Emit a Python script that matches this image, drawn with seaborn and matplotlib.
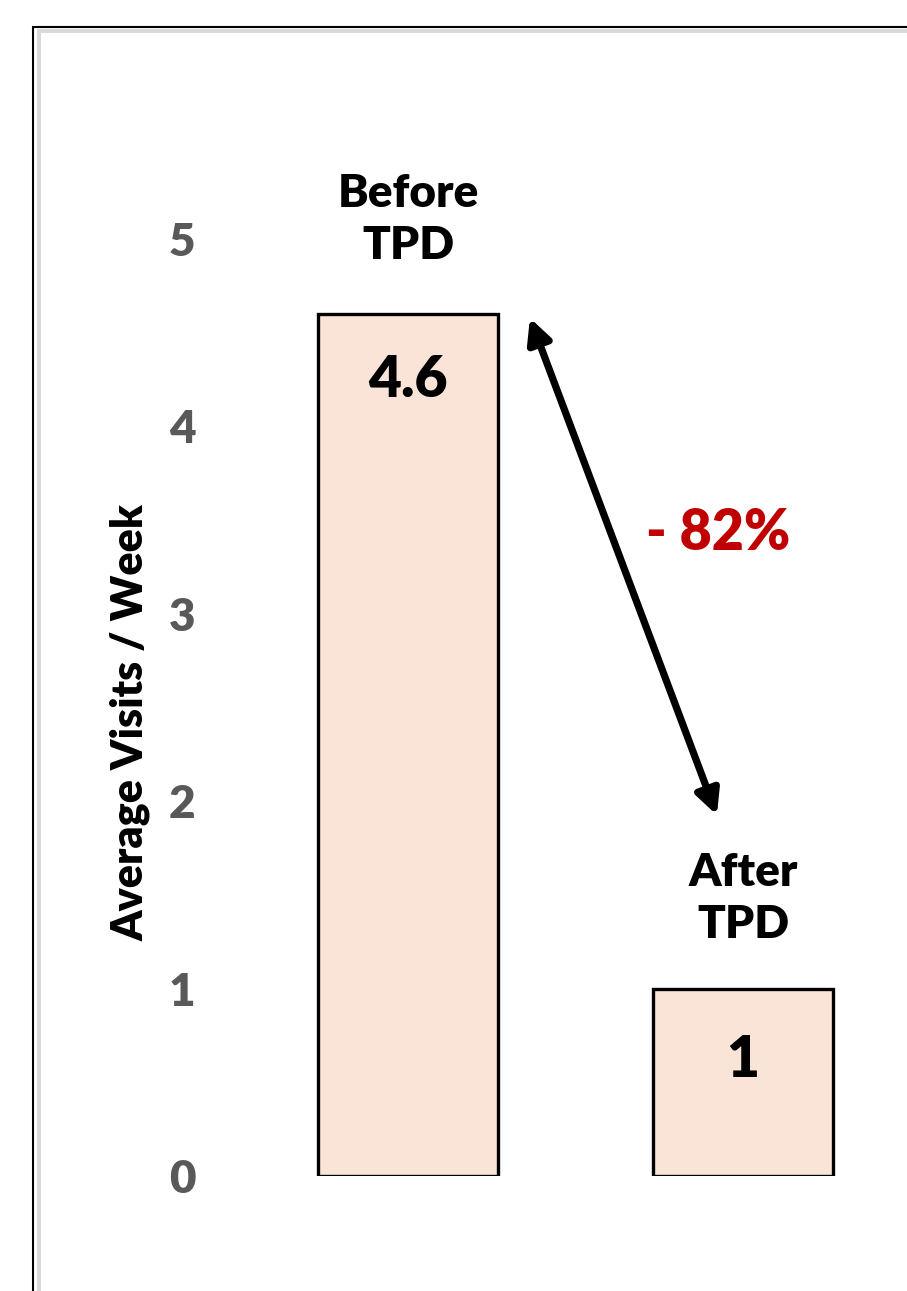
import matplotlib
matplotlib.use("Agg")
import matplotlib.pyplot as plt
import seaborn as sns
import pandas as pd
from matplotlib.patches import Rectangle

# ---- data ----
categories = ["Before TPD", "After TPD"]
cat_labels = ["Before\nTPD", "After\nTPD"]
values = [4.6, 1.0]
value_labels = ["4.6", "1"]
yticks = [0, 1, 2, 3, 4, 5]
change_label = "- 82%"

sns.set_theme(style="white")
plt.rcParams["font.family"] = ["Lato", "DejaVu Sans"]
WEIGHT = "heavy"
plt.rcParams["font.weight"] = WEIGHT

W, H = 907, 1291
fig = plt.figure(figsize=(W / 100, H / 100), dpi=100)
fig.patch.set_facecolor("white")

# axes placement (pixels)
ax_left_px = 205
y0_px = 1176
px_per_unit = 187.5
ytop = 5.5
ax = fig.add_axes([ax_left_px / W, (H - y0_px) / H, (W - ax_left_px) / W,
                   ytop * px_per_unit / H])

df = pd.DataFrame({"cat": categories, "val": values})
sns.barplot(data=df, x="cat", y="val", ax=ax, color="#FAE4D7",
            width=0.537, edgecolor="black", linewidth=2.4, saturation=1)

ax.set_xlim((ax_left_px - 408) / 335, (W - 408) / 335)
ax.set_ylim(0, ytop)
ax.set_yticks(yticks)
ax.set_yticklabels([str(t) for t in yticks], fontsize=33, color="#595959",
                   fontweight=WEIGHT)
ax.tick_params(axis="y", length=0, pad=7)
ax.set_xticks([])
ax.set_xlabel("")
ax.set_ylabel("Average Visits / Week", fontsize=31, fontweight=WEIGHT,
              color="black")
ax.yaxis.set_label_coords(-0.078, 0.44)
for s in ax.spines.values():
    s.set_visible(False)
ax.patch.set_alpha(0)

# category labels above bars
cat_label_y = [5.1, 1.48]
for i, (lab, v) in enumerate(zip(cat_labels, values)):
    ax.text(i, cat_label_y[i], lab, ha="center", va="center", fontsize=33,
            fontweight=WEIGHT, color="black", linespacing=1.32)

# value labels inside bars
val_label_y = [4.245, 0.62]
for i, lab in enumerate(value_labels):
    ax.text(i, val_label_y[i], lab, ha="center", va="center", fontsize=41,
            fontweight=WEIGHT, color="black")

# double-headed arrow
ax.annotate("", xy=(0.922, 1.925), xytext=(0.364, 4.576),
            arrowprops=dict(arrowstyle="<|-|>", color="black", lw=5.2,
                            mutation_scale=36, shrinkA=0, shrinkB=0))
ax.text(0.925, 3.43, change_label, ha="center", va="center", fontsize=40,
        fontweight=WEIGHT, color="#C00000")

# frame borders
fig.patches.append(Rectangle((32.5 / W, -0.2), 2, 1 - 26.5 / H + 0.2,
                             transform=fig.transFigure, fill=False,
                             edgecolor="black", lw=1.5, zorder=0))
fig.patches.append(Rectangle((39 / W, -0.2), 2, 1 - 31 / H + 0.2,
                             transform=fig.transFigure, fill=False,
                             edgecolor="#D9D9D9", lw=2.9, zorder=0))

fig.savefig("out.png", dpi=100, facecolor="white")
